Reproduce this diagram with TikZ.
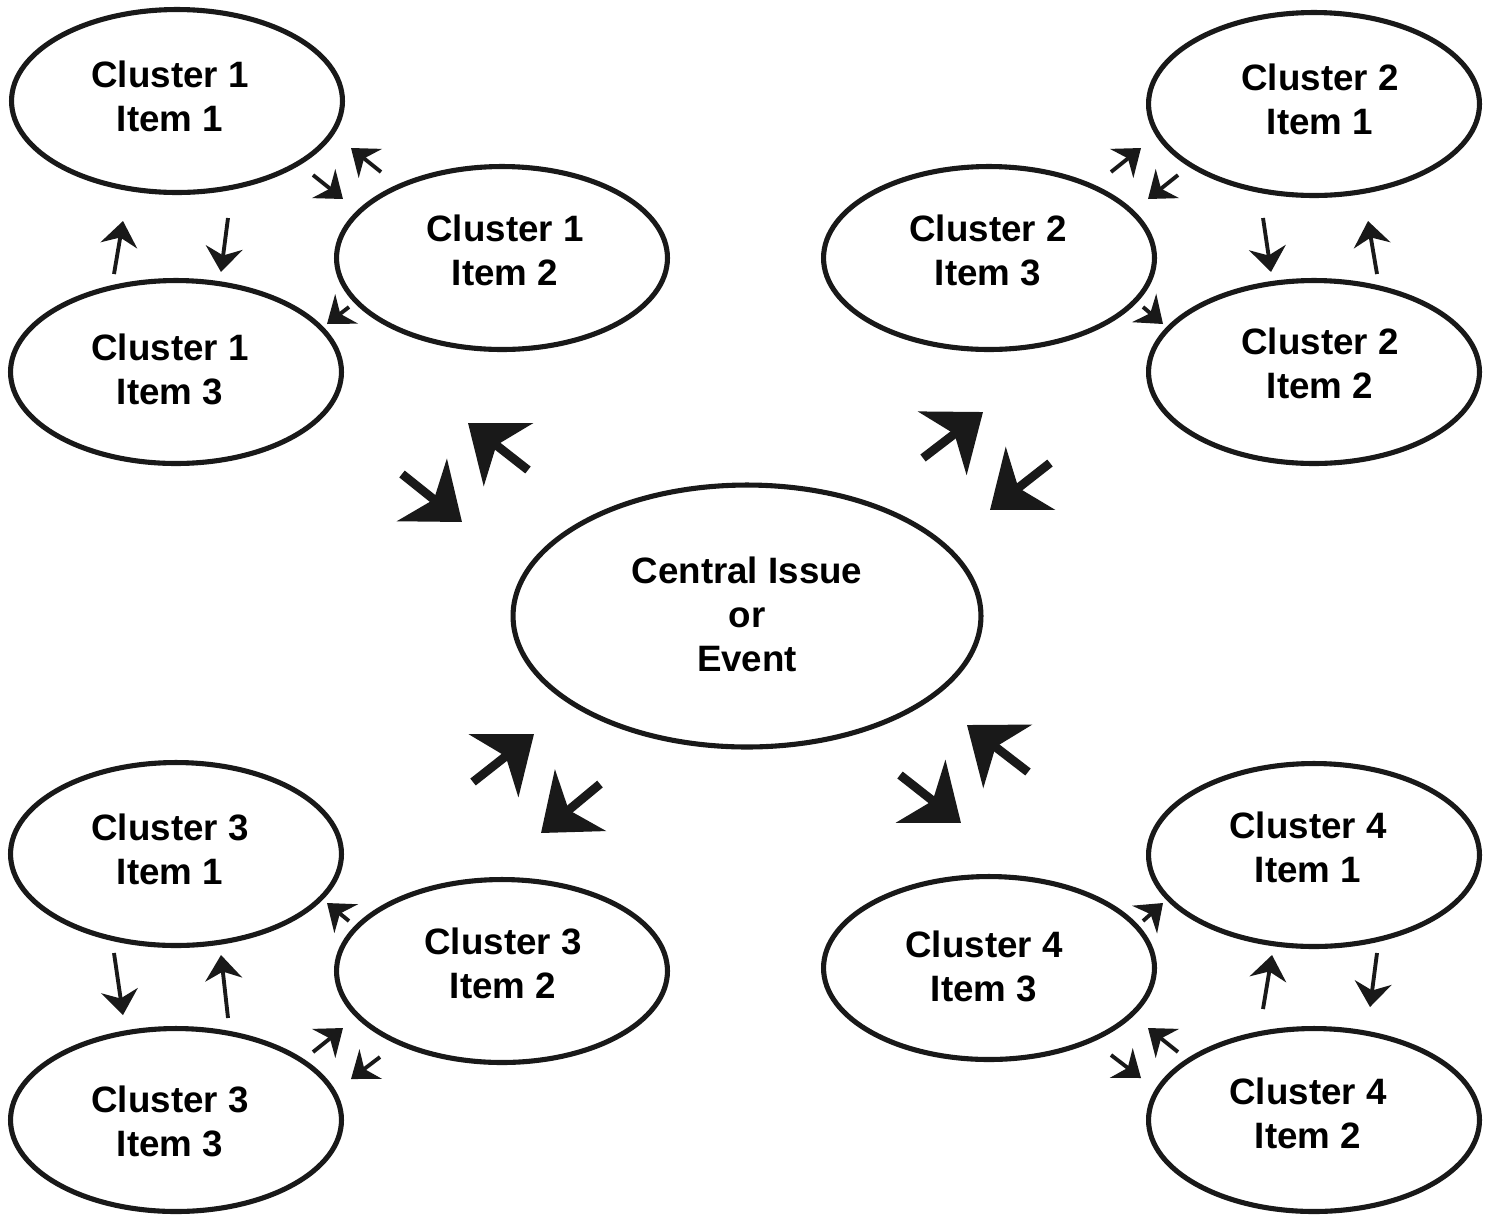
\documentclass[tikz,border=0pt]{standalone}
\usepackage{fontspec}
\setmainfont{Liberation Sans}
\usetikzlibrary{shapes.geometric,arrows.meta}
\begin{document}
\begin{tikzpicture}[x=0.02cm,y=-0.02cm,
 bub/.style={draw=black!90, ellipse, line width=2.9pt, inner sep=0pt,
   minimum width=6.62cm, minimum height=3.66cm},
 central/.style={bub, minimum width=9.36cm, minimum height=5.24cm},
 lbl/.style={align=center, inner sep=0pt, font=\bfseries\fontsize{20.9}{25}\selectfont},
 sarr/.style={draw=black!90, line width=2.2pt, -{Stealth[length=14pt,width=21pt,inset=4.5pt]}},
 barr/.style={draw=black!90, line width=5pt, -{Stealth[length=29pt,width=45pt,inset=8.5pt]}}]
\useasboundingbox (0,0) rectangle (1493,1215);
% ellipses
\node[bub] (c1a) at (177,101) {};
\node[bub] (c1b) at (502,258) {};
\node[bub] (c1c) at (176,372) {};
\node[bub] (c2a) at (1314,104) {};
\node[bub] (c2c) at (989,258) {};
\node[bub] (c2b) at (1314,372) {};
\node[central] (cen) at (747,616) {};
\node[bub] (c3a) at (176,854) {};
\node[bub] (c3b) at (502,971) {};
\node[bub] (c3c) at (176,1120) {};
\node[bub] (c4a) at (1314,855) {};
\node[bub] (c4c) at (989,968) {};
\node[bub] (c4b) at (1314,1120) {};
% labels
\node[lbl] (t1a) at (170,96) {Cluster 1\\Item 1};
\node[lbl] (t1b) at (505,250) {Cluster 1\\Item 2};
\node[lbl] (t1c) at (170,369) {Cluster 1\\Item 3};
\node[lbl] (t2a) at (1320,99) {Cluster 2\\Item 1};
\node[lbl] (t2c) at (988,250) {Cluster 2\\Item 3};
\node[lbl] (t2b) at (1320,363) {Cluster 2\\Item 2};
\node[lbl] (tcen) at (747,614) {Central Issue\\or\\Event};
\node[lbl] (t3a) at (170,849) {Cluster 3\\Item 1};
\node[lbl] (t3b) at (503,963) {Cluster 3\\Item 2};
\node[lbl] (t3c) at (170,1121) {Cluster 3\\Item 3};
\node[lbl] (t4a) at (1308,847) {Cluster 4\\Item 1};
\node[lbl] (t4c) at (984,966) {Cluster 4\\Item 3};
\node[lbl] (t4b) at (1308,1113) {Cluster 4\\Item 2};
% big arrow end points
\coordinate (b1s) at (402,474); \coordinate (b1e) at (462,522);
\coordinate (b2s) at (528,470); \coordinate (b2e) at (468,423);
\coordinate (b3s) at (923,458); \coordinate (b3e) at (983,412);
\coordinate (b4s) at (1050,463); \coordinate (b4e) at (990,510);
\coordinate (b5s) at (473,782); \coordinate (b5e) at (534,734);
\coordinate (b6s) at (600,784); \coordinate (b6e) at (541,833);
\coordinate (b7s) at (900,775); \coordinate (b7e) at (961,823);
\coordinate (b8s) at (1028,772); \coordinate (b8e) at (967,725);
\foreach \i in {1,...,8} \draw[barr] (b\i s) -- (b\i e);
% small arrow end points
\coordinate (s1s) at (313,175); \coordinate (s1e) at (343,199);
\coordinate (s2s) at (381,172); \coordinate (s2e) at (351,148);
\coordinate (s3s) at (349,307); \coordinate (s3e) at (327,324);
\coordinate (s4s) at (114,274); \coordinate (s4e) at (123,221);
\coordinate (s5s) at (228,218); \coordinate (s5e) at (221,272);
\coordinate (s6s) at (1111,172); \coordinate (s6e) at (1141,148);
\coordinate (s7s) at (1178,175); \coordinate (s7e) at (1148,199);
\coordinate (s8s) at (1143,307); \coordinate (s8e) at (1163,324);
\coordinate (s9s) at (1263,218); \coordinate (s9e) at (1271,272);
\coordinate (s10s) at (1377,274); \coordinate (s10e) at (1368,221);
\coordinate (s11s) at (349,921); \coordinate (s11e) at (327,903);
\coordinate (s12s) at (313,1052); \coordinate (s12e) at (343,1028);
\coordinate (s13s) at (380,1057); \coordinate (s13e) at (351,1079);
\coordinate (s14s) at (114,953); \coordinate (s14e) at (123,1015);
\coordinate (s15s) at (228,1018); \coordinate (s15e) at (221,955);
\coordinate (s16s) at (1143,921); \coordinate (s16e) at (1163,903);
\coordinate (s17s) at (1178,1052); \coordinate (s17e) at (1148,1028);
\coordinate (s18s) at (1111,1055); \coordinate (s18e) at (1141,1078);
\coordinate (s19s) at (1263,1009); \coordinate (s19e) at (1272,955);
\coordinate (s20s) at (1377,953); \coordinate (s20e) at (1370,1007);
\foreach \i in {1,...,20} \draw[sarr] (s\i s) -- (s\i e);
\end{tikzpicture}
\end{document}
